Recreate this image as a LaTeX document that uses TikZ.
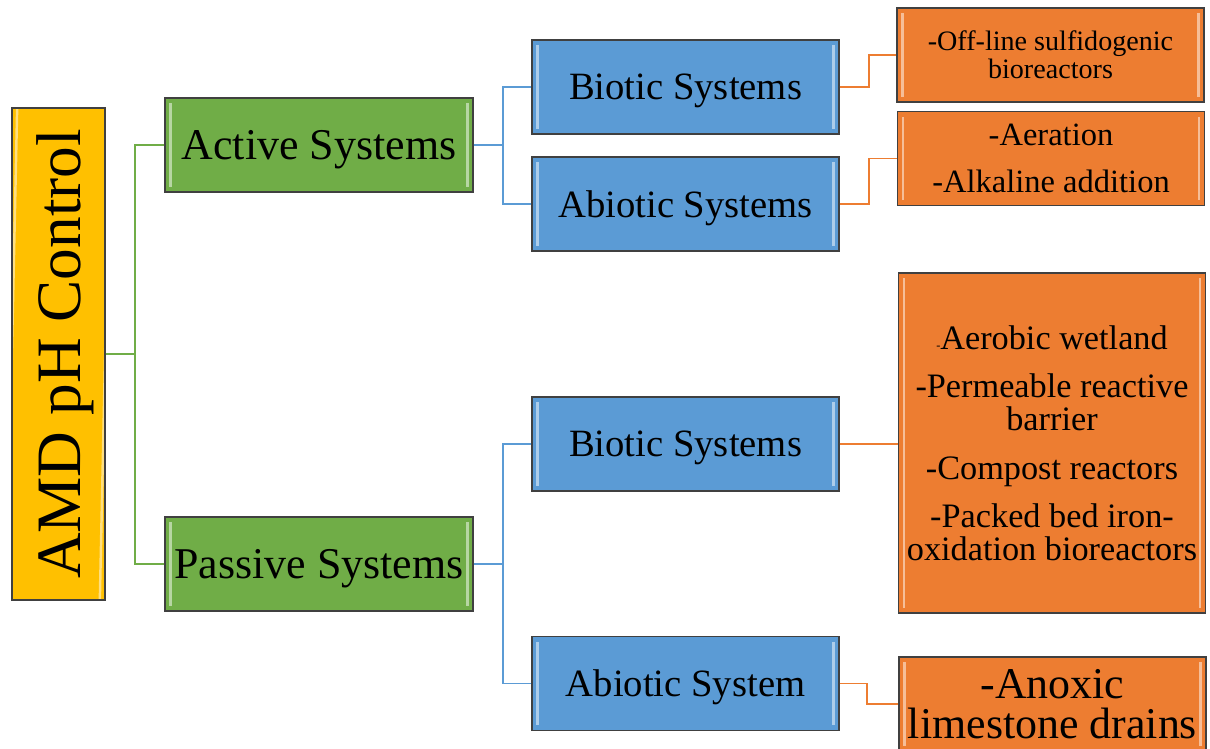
\documentclass[tikz,border=0pt]{standalone}
\usepackage{fontspec}
\setmainfont{Liberation Serif}
\usetikzlibrary{positioning}

\definecolor{rootyellow}{HTML}{FFC000}
\definecolor{actgreen}{HTML}{70AD47}
\definecolor{sysblue}{HTML}{5B9BD5}
\definecolor{methorange}{HTML}{ED7D31}
\definecolor{edgegray}{HTML}{404040}

\tikzset{
  bevel/.style={path picture={
    \draw[white,opacity=0.5,line width=1.4pt]
      ([shift={(3pt,-3pt)}]path picture bounding box.north west) -- ([shift={(3pt,3pt)}]path picture bounding box.south west)
      ([shift={(-3pt,-3pt)}]path picture bounding box.north east) -- ([shift={(-3pt,3pt)}]path picture bounding box.south east);}},
  box/.style={draw=edgegray, line width=0.8pt, bevel, align=center, inner sep=0pt, text=black, text depth=0pt},
  rootbox/.style={box, fill=rootyellow, minimum width=9.84cm, minimum height=1.86cm, rotate=90,
    font=\fontsize{36}{40}\selectfont},
  groupbox/.style={box, fill=actgreen, minimum width=6.16cm, minimum height=1.88cm,
    font=\fontsize{25}{28}\selectfont},
  sysbox/.style={box, fill=sysblue, minimum width=6.14cm, minimum height=1.88cm,
    font=\fontsize{22}{26}\selectfont},
  methbox/.style={box, fill=methorange, minimum width=6.14cm, minimum height=1.88cm},
  conn/.style={line width=1pt}
}

\begin{document}
\begin{tikzpicture}[x=0.02cm, y=-0.02cm]
\useasboundingbox (0,0) rectangle (1210,749);

% root and the two groups
\node[rootbox] (root) at (58.5,354) {AMD pH Control};
\node[groupbox] (active) at (319,145) {Active Systems};
\node[groupbox] (passive) at (319,564) {Passive Systems};

% system boxes
\node[sysbox] (bio1) at (685.5,87) {Biotic Systems};
\node[sysbox] (abio1) at (685.5,204) {Abiotic Systems};
\node[sysbox] (bio2) at (685.5,444) {Biotic Systems};
\node[sysbox] (abio2) at (685.5,683.5) {Abiotic System};

% methods
\node[methbox, font=\fontsize{16}{16}\selectfont] (m1) at (1050.5,55) {-Off-line sulfidogenic\\ bioreactors};
\node[methbox, font=\fontsize{18.5}{20}\selectfont] (m2) at (1051,158.5) {-Aeration\\[6.6pt] -Alkaline addition};
\node[methbox, minimum height=6.8cm, font=\fontsize{19.5}{19}\selectfont] (m3) at (1052,443)
  {{\fontsize{7}{7}\selectfont-}Aerobic wetland\\[8.5pt] -Permeable reactive\\ barrier\\[8.5pt]
   -Compost reactors\\[8.5pt] -Packed bed iron-\\ oxidation bioreactors};
\node[methbox, font=\fontsize{25}{23}\selectfont] (m4) at (1052.5,704) {-Anoxic\\ limestone drains};

% connectors
\coordinate (rj) at (135,354);
\draw[conn, actgreen] (root.south) -- (rj) |- (active.west);
\draw[conn, actgreen] (rj) |- (passive.west);

\draw[conn, sysblue] (active.east) -- ++(29,0) coordinate (aj) |- (bio1.west);
\draw[conn, sysblue] (aj) |- (abio1.west);
\draw[conn, sysblue] (passive.east) -- ++(29,0) coordinate (pj) |- (bio2.west);
\draw[conn, sysblue] (pj) |- (abio2.west);

\draw[conn, methorange] (bio1.east) -- ++(29,0) |- (m1.west);
\draw[conn, methorange] (abio1.east) -- ++(29,0) |- (m2.west);
\draw[conn, methorange] (bio2.east) -- (bio2.east -| m3.west);
\draw[conn, methorange] (abio2.east) -- ++(27,0) |- (m4.west);
\end{tikzpicture}
\end{document}
